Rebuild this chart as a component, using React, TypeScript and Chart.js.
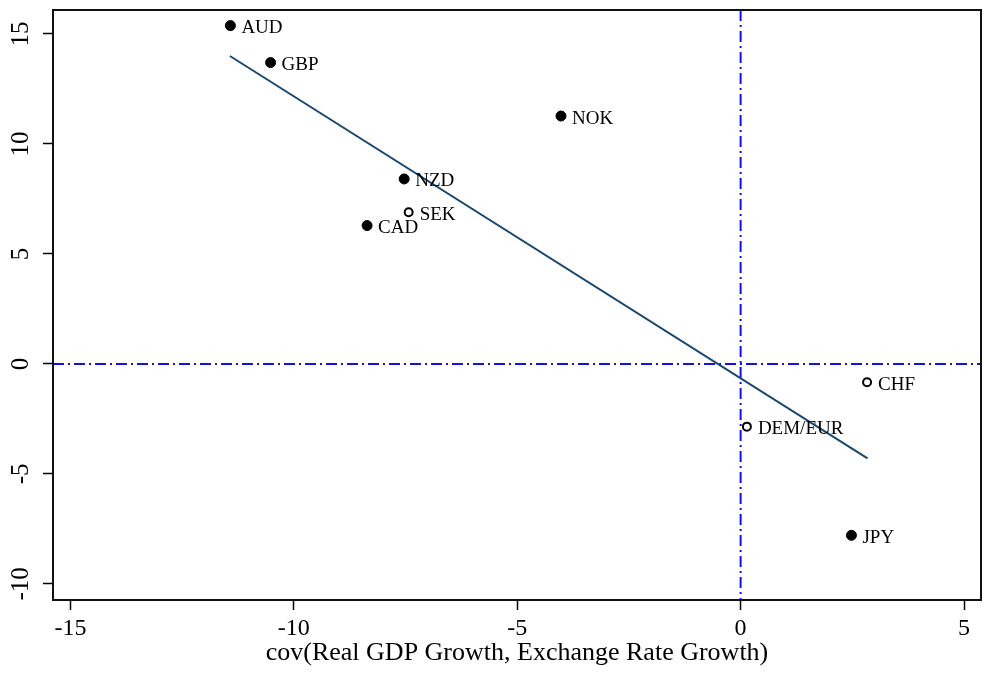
import React, { useEffect, useRef } from "react";
import { Chart, registerables } from "chart.js";

Chart.register(...registerables);

// Currency observations: covariance of real GDP growth with FX growth (x) vs. outcome (y)
const currencies = ["AUD", "GBP", "NOK", "NZD", "SEK", "CAD", "CHF", "DEM/EUR", "JPY"];
const covGdpFx = [-11.42, -10.52, -4.02, -7.53, -7.43, -8.36, 2.83, 0.14, 2.48];
const yValues = [15.38, 13.7, 11.27, 8.41, 6.9, 6.29, -0.83, -2.85, -7.79];
const openMarkerCurrencies = ["SEK", "CHF", "DEM/EUR"];

// Fitted line end points
const fitX = [-11.43, 2.84];
const fitY = [14.0, -4.29];

// Axes
const xTicks = [-15, -10, -5, 0, 5];
const yTicks = [-10, -5, 0, 5, 10, 15];
const xRange = [-15.39, 5.38];
const yRange = [-10.73, 16.09];
const xTitle = "cov(Real GDP Growth, Exchange Rate Growth)";
const refX = 0;
const refY = 0;

const serif = '"Liberation Serif", "Times New Roman", serif';

type Pt = { x: number; y: number; label: string };

const allPoints: Pt[] = currencies.map((c, i) => ({ x: covGdpFx[i], y: yValues[i], label: c }));
const filledPoints = allPoints.filter((p) => !openMarkerCurrencies.includes(p.label));
const openPoints = allPoints.filter((p) => openMarkerCurrencies.includes(p.label));
const fitPoints = fitX.map((x, i) => ({ x, y: fitY[i] }));

const referenceLines = {
  id: "referenceLines",
  beforeDatasetsDraw(chart: any) {
    const { ctx, chartArea, scales } = chart;
    const px = scales.x.getPixelForValue(refX);
    const py = scales.y.getPixelForValue(refY);
    ctx.save();
    ctx.strokeStyle = "#1010f0";
    ctx.lineWidth = 2;
    ctx.setLineDash([11, 4, 2, 4]);
    ctx.beginPath();
    ctx.moveTo(px, chartArea.top);
    ctx.lineTo(px, chartArea.bottom);
    ctx.moveTo(chartArea.left, py);
    ctx.lineTo(chartArea.right, py);
    ctx.stroke();
    ctx.restore();
  },
};

const pointLabels = {
  id: "pointLabels",
  afterDatasetsDraw(chart: any) {
    const { ctx } = chart;
    ctx.save();
    ctx.font = `19px ${serif}`;
    ctx.fillStyle = "#000";
    ctx.textAlign = "left";
    ctx.textBaseline = "middle";
    [0, 1].forEach((di) => {
      const meta = chart.getDatasetMeta(di);
      const data = chart.data.datasets[di].data as Pt[];
      meta.data.forEach((el: any, i: number) => {
        ctx.fillText(data[i].label, el.x + 11, el.y + 2.5);
      });
    });
    ctx.restore();
  },
};

const plotFrame = {
  id: "plotFrame",
  afterDraw(chart: any) {
    const { ctx, chartArea } = chart;
    ctx.save();
    ctx.strokeStyle = "#111";
    ctx.lineWidth = 2;
    ctx.strokeRect(chartArea.left, chartArea.top, chartArea.right - chartArea.left, chartArea.bottom - chartArea.top);
    ctx.restore();
  },
};

export default function App() {
  const canvasRef = useRef<HTMLCanvasElement | null>(null);

  useEffect(() => {
    if (!canvasRef.current) return;
    const chart = new Chart(canvasRef.current, {
      type: "scatter",
      data: {
        datasets: [
          {
            data: filledPoints,
            pointRadius: 5,
            pointBackgroundColor: "#000",
            pointBorderColor: "#000",
            pointBorderWidth: 1,
            showLine: false,
          },
          {
            data: openPoints,
            pointRadius: 4,
            pointBackgroundColor: "#fff",
            pointBorderColor: "#000",
            pointBorderWidth: 2,
            showLine: false,
          },
          {
            data: fitPoints,
            showLine: true,
            pointRadius: 0,
            borderColor: "#1a476f",
            borderWidth: 2,
            fill: false,
          },
        ],
      } as any,
      options: {
        animation: false,
        responsive: true,
        maintainAspectRatio: false,
        layout: { padding: { top: 10, right: 0, left: 0, bottom: 0 } },
        plugins: { legend: { display: false }, tooltip: { enabled: false } },
        scales: {
          x: {
            type: "linear",
            min: xRange[0],
            max: xRange[1],
            afterBuildTicks: (s: any) => {
              s.ticks = xTicks.map((v) => ({ value: v }));
            },
            afterFit: (s: any) => {
              s.height = 73;
              s.paddingLeft = 0;
              s.paddingRight = 0;
            },
            grid: { drawOnChartArea: false, drawTicks: true, tickLength: 10, tickColor: "#000", tickWidth: 1.5 },
            border: { display: false },
            ticks: {
              color: "#000",
              font: { family: serif, size: 24 },
              padding: 4,
              minRotation: 0,
              maxRotation: 0,
              autoSkip: false,
            },
            title: {
              display: true,
              text: xTitle,
              color: "#000",
              font: { family: serif, size: 26 },
              padding: { top: 0, bottom: 4 },
            },
          },
          y: {
            type: "linear",
            min: yRange[0],
            max: yRange[1],
            afterBuildTicks: (s: any) => {
              s.ticks = yTicks.map((v) => ({ value: v }));
            },
            afterFit: (s: any) => {
              s.width = 53;
              s.paddingTop = 0;
              s.paddingBottom = 0;
            },
            grid: { drawOnChartArea: false, drawTicks: true, tickLength: 10, tickColor: "#000", tickWidth: 1.5 },
            border: { display: false },
            ticks: {
              color: "#000",
              font: { family: serif, size: 25 },
              padding: 5,
              minRotation: 90,
              maxRotation: 90,
              crossAlign: "center",
              autoSkip: false,
            },
          },
        },
      } as any,
      plugins: [referenceLines, pointLabels, plotFrame],
    });
    return () => chart.destroy();
  }, []);

  return (
    <div style={{ position: "absolute", left: 0, top: 0, width: 984, height: 673, overflow: "hidden", background: "#fff" }}>
      <div style={{ position: "relative", width: 987, height: 673 }}>
        <canvas ref={canvasRef} />
      </div>
    </div>
  );
}
